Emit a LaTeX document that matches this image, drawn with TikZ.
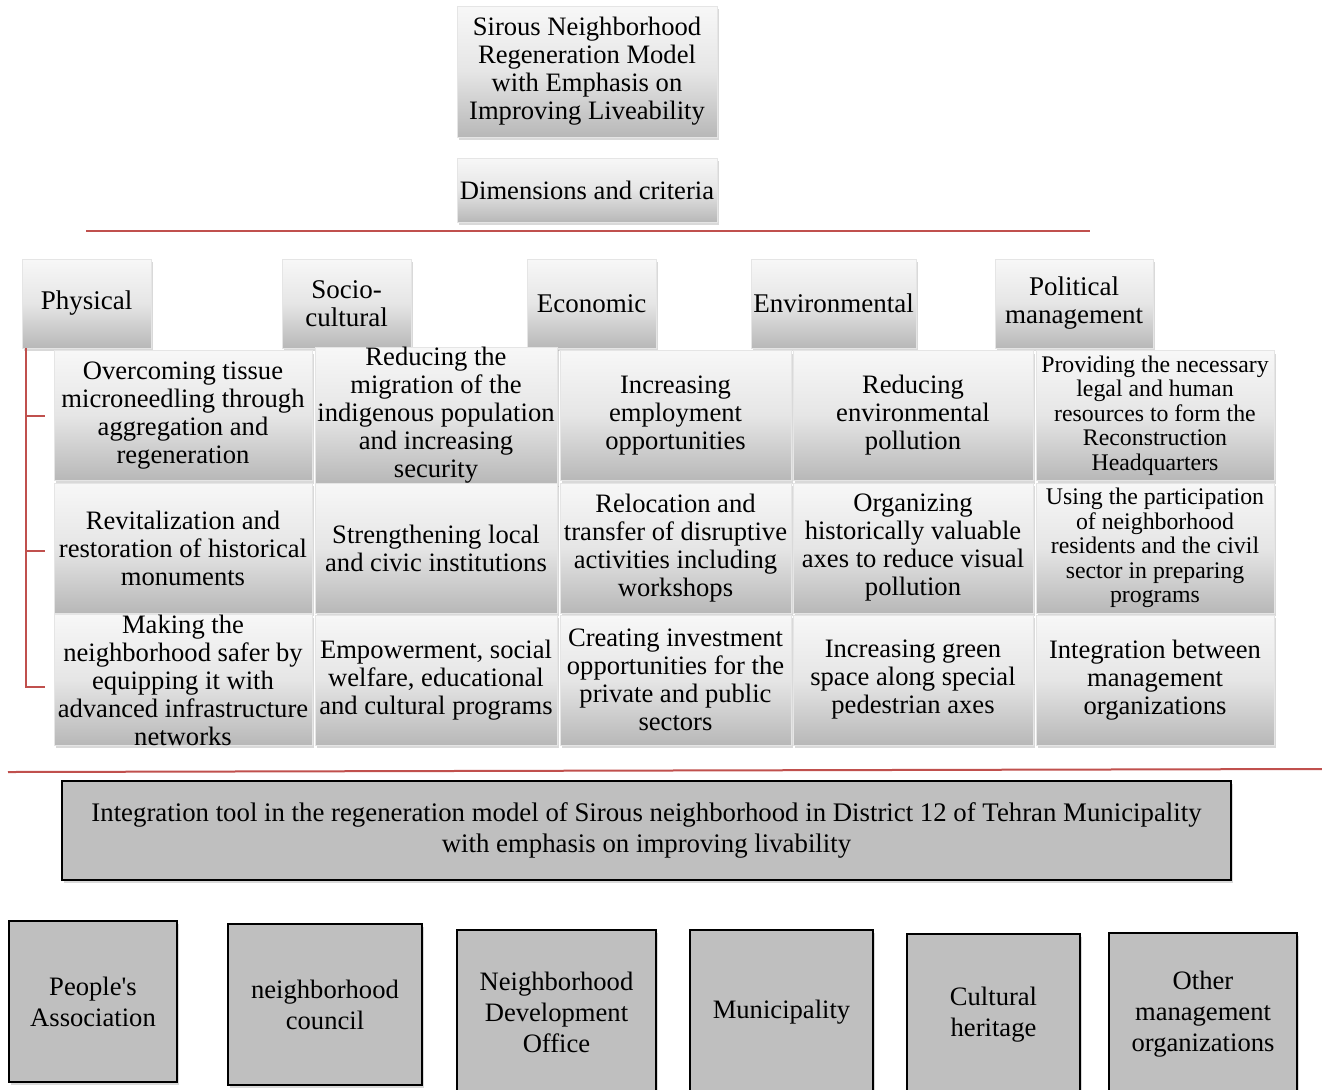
\documentclass[tikz,border=0pt]{standalone}
\usepackage{fontspec}
\setmainfont{Liberation Serif}
\usetikzlibrary{shadows}
\definecolor{accred}{HTML}{C0504D}
\definecolor{boxgray}{HTML}{BFBFBF}
\begin{document}
\begin{tikzpicture}[x=0.5pt,y=-0.5pt,
  gbox/.style={rectangle, draw=black!10, line width=0.3pt, top color=white!97!black, bottom color=black!28, middle color=white!90!black, inner sep=0pt, align=center, font=\fontsize{13.3}{14}\selectfont, drop shadow={shadow xshift=1pt, shadow yshift=-1.5pt, opacity=0.3}},
  hdr/.style={gbox, minimum height=44.5pt, font=\fontsize{13.5}{14}\selectfont},
  cell/.style={gbox, minimum height=65pt},
  pcell/.style={cell, font=\fontsize{11.9}{12.3}\selectfont},
  obox/.style={rectangle, draw=black, line width=0.9pt, fill=boxgray, inner sep=0pt, align=center, font=\fontsize{13.3}{15.5}\selectfont, drop shadow={shadow xshift=1pt, shadow yshift=-1.5pt, opacity=0.3}},
  redl/.style={draw=accred, line width=1pt}]
\useasboundingbox (0,0) rectangle (1322,1089);

% top
\node[gbox, minimum width=130pt, minimum height=65.5pt] (title) at (587,71.5) {Sirous Neighborhood\\Regeneration Model\\with Emphasis on\\Improving Liveability};
\node[gbox, minimum width=130pt, minimum height=32pt] (dims) at (587,190) {Dimensions and criteria};
\coordinate (l1a) at (86,231);
\coordinate (l1b) at (1090,231);
\draw[redl] (l1a) -- (l1b);

% headers
\node[hdr, minimum width=64.5pt] (phys) at (86.5,303.5) {Physical};
\node[hdr, minimum width=64.5pt] (soc) at (346.5,303.5) {Socio-\\cultural};
\node[hdr, minimum width=64.5pt] (eco) at (591.5,303.5) {Economic};
\node[hdr, minimum width=82.5pt] (env) at (833.5,303.5) {Environmental};
\node[hdr, minimum width=79pt] (pol) at (1074,303.5) {Political\\management};

% row 1
\node[cell, minimum width=129pt] (c11) at (183,415.5) {Overcoming tissue\\microneedling through\\aggregation and\\regeneration};
\node[cell, minimum width=121pt] (c12) at (436,415.5) {Reducing the\\migration of the\\indigenous population\\and increasing\\security};
\node[cell, minimum width=115.5pt] (c13) at (675.5,415.5) {Increasing\\employment\\opportunities};
\node[cell, minimum width=120pt] (c14) at (913,415.5) {Reducing\\environmental\\pollution};
\node[pcell, minimum width=119pt] (c15) at (1155,415.5) {Providing the necessary\\legal and human\\resources to form the\\Reconstruction\\Headquarters};
% row 2
\node[cell, minimum width=129pt] (c21) at (183,548) {Revitalization and\\restoration of historical\\monuments};
\node[cell, minimum width=121pt] (c22) at (436,548) {Strengthening local\\and civic institutions};
\node[cell, minimum width=115.5pt] (c23) at (675.5,548) {Relocation and\\transfer of disruptive\\activities including\\workshops};
\node[cell, minimum width=120pt] (c24) at (913,548) {Organizing\\historically valuable\\axes to reduce visual\\pollution};
\node[pcell, minimum width=119pt] (c25) at (1155,548) {Using the participation\\of neighborhood\\residents and the civil\\sector in preparing\\programs};
% row 3
\node[cell, minimum width=129pt] (c31) at (183,680) {Making the\\neighborhood safer by\\equipping it with\\advanced infrastructure\\networks};
\node[cell, minimum width=121pt] (c32) at (436,680) {Empowerment, social\\welfare, educational\\and cultural programs};
\node[cell, minimum width=115.5pt] (c33) at (675.5,680) {Creating investment\\opportunities for the\\private and public\\sectors};
\node[cell, minimum width=120pt] (c34) at (913,680) {Increasing green\\space along special\\pedestrian axes};
\node[cell, minimum width=119pt] (c35) at (1155,680) {Integration between\\management\\organizations};

% bracket
\coordinate (br0) at (26,348);
\coordinate (br1) at (26,416);
\coordinate (br2) at (26,551);
\coordinate (br3) at (26,687);
\coordinate (t1) at (45,416);
\coordinate (t2) at (45,551);
\coordinate (t3) at (45,687);
\draw[redl] (br0) -- (br3) -- (t3);
\draw[redl] (br1) -- (t1);
\draw[redl] (br2) -- (t2);

% second red line
\coordinate (l2a) at (8,772);
\coordinate (l2b) at (1322,769);
\draw[redl] (l2a) -- (l2b);

% integration box
\node[obox, minimum width=584.5pt, minimum height=49.5pt, font=\fontsize{13.4}{15.5}\selectfont] (integ) at (646.5,830.5) {Integration tool in the regeneration model of Sirous neighborhood in District 12 of Tehran Municipality\\with emphasis on improving livability};

% bottom boxes
\node[obox, minimum width=84pt, minimum height=80.5pt] (b1) at (93,1001.5) {People\textquotesingle s\\Association};
\node[obox, minimum width=97pt, minimum height=80.5pt] (b2) at (325,1004.5) {neighborhood\\council};
\node[obox, minimum width=99.5pt, minimum height=82.5pt] (b3) at (556.5,1012.5) {Neighborhood\\Development\\Office};
\node[obox, minimum width=91.5pt, minimum height=82.5pt] (b4) at (781.5,1012.5) {Municipality};
\node[obox, minimum width=86.5pt, minimum height=80.5pt] (b5) at (993.5,1014.5) {Cultural\\heritage};
\node[obox, minimum width=94pt, minimum height=81pt] (b6) at (1203,1014) {Other\\management\\organizations};
\end{tikzpicture}
\end{document}
